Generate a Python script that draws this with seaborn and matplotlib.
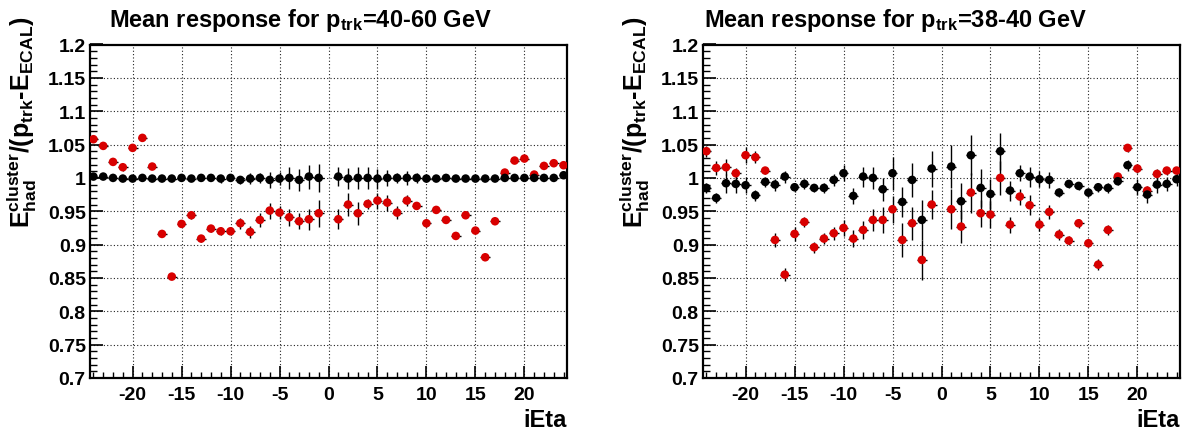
import numpy as np
import pandas as pd
import matplotlib
matplotlib.use("Agg")
import matplotlib.pyplot as plt
import seaborn as sns
from matplotlib.ticker import MultipleLocator, FuncFormatter

# === DATA ===
IETA = list(range(-24, 0)) + list(range(1, 25))

# p_trk = 40-60 GeV
red_4060 = [1.058, 1.048, 1.024, 1.016, 1.045, 1.060, 1.017, 0.916, 0.852, 0.931, 0.944, 0.909,
            0.924, 0.920, 0.920, 0.932, 0.919, 0.937, 0.951, 0.948, 0.941, 0.935, 0.938, 0.947,
            0.938, 0.960, 0.947, 0.961, 0.966, 0.963, 0.948, 0.966, 0.958, 0.932, 0.952, 0.937,
            0.913, 0.944, 0.921, 0.881, 0.935, 1.008, 1.026, 1.029, 1.005, 1.018, 1.022, 1.019]
red_err_4060 = [0.004, 0.004, 0.005, 0.005, 0.004, 0.003, 0.004, 0.004, 0.003, 0.005, 0.005, 0.005,
                0.005, 0.006, 0.006, 0.008, 0.009, 0.010, 0.012, 0.010, 0.013, 0.012, 0.016, 0.020,
                0.015, 0.017, 0.017, 0.008, 0.012, 0.012, 0.010, 0.008, 0.005, 0.006, 0.005, 0.005,
                0.004, 0.004, 0.004, 0.004, 0.004, 0.004, 0.004, 0.004, 0.004, 0.003, 0.003, 0.003]
black_4060 = [1.002, 1.002, 1.000, 0.999, 0.999, 1.000, 0.999, 0.999, 0.999, 1.000, 0.999, 1.000,
              1.000, 0.999, 1.000, 0.997, 0.999, 1.000, 0.997, 0.999, 1.000, 0.997, 1.002, 1.000,
              1.002, 0.999, 1.000, 1.000, 0.999, 1.000, 1.000, 1.000, 1.000, 0.999, 0.999, 1.000,
              0.999, 0.999, 0.999, 0.999, 0.999, 1.000, 1.000, 1.000, 1.000, 1.000, 1.000, 1.004]
black_err_4060 = [0.003, 0.003, 0.003, 0.003, 0.003, 0.003, 0.003, 0.003, 0.003, 0.003, 0.003, 0.004,
                  0.004, 0.006, 0.005, 0.006, 0.008, 0.008, 0.012, 0.010, 0.016, 0.016, 0.018, 0.021,
                  0.014, 0.016, 0.017, 0.017, 0.015, 0.012, 0.008, 0.010, 0.008, 0.005, 0.004, 0.004,
                  0.003, 0.003, 0.003, 0.003, 0.003, 0.003, 0.003, 0.003, 0.003, 0.003, 0.003, 0.003]

# p_trk = 38-40 GeV
red_3840 = [1.040, 1.015, 1.016, 1.007, 1.034, 1.031, 1.011, 0.907, 0.855, 0.916, 0.934, 0.896,
            0.909, 0.917, 0.925, 0.909, 0.922, 0.937, 0.937, 0.953, 0.907, 0.932, 0.877, 0.960,
            0.953, 0.927, 0.978, 0.947, 0.945, 1.000, 0.930, 0.972, 0.959, 0.930, 0.949, 0.915,
            0.906, 0.932, 0.902, 0.870, 0.922, 1.002, 1.045, 1.014, 0.981, 1.006, 1.011, 1.011]
red_err_3840 = [0.008, 0.010, 0.012, 0.008, 0.012, 0.009, 0.005, 0.010, 0.010, 0.010, 0.007, 0.008,
                0.008, 0.010, 0.012, 0.013, 0.014, 0.016, 0.020, 0.020, 0.025, 0.025, 0.030, 0.022,
                0.030, 0.025, 0.030, 0.020, 0.020, 0.025, 0.012, 0.012, 0.015, 0.010, 0.010, 0.008,
                0.007, 0.007, 0.006, 0.008, 0.007, 0.006, 0.006, 0.007, 0.007, 0.008, 0.006, 0.006]
black_3840 = [0.985, 0.970, 0.992, 0.991, 0.989, 0.974, 0.994, 0.990, 1.002, 0.986, 0.991, 0.985,
              0.985, 0.997, 1.007, 0.973, 1.002, 1.000, 0.983, 1.007, 0.964, 0.997, 0.937, 1.014,
              1.017, 0.965, 1.034, 0.985, 0.976, 1.040, 0.981, 1.007, 1.002, 0.998, 0.997, 0.978,
              0.991, 0.988, 0.978, 0.986, 0.985, 0.995, 1.019, 0.986, 0.975, 0.990, 0.991, 0.998]
black_err_3840 = [0.008, 0.008, 0.014, 0.014, 0.012, 0.008, 0.007, 0.009, 0.009, 0.007, 0.008, 0.006,
                  0.007, 0.009, 0.012, 0.012, 0.015, 0.016, 0.017, 0.025, 0.022, 0.025, 0.030, 0.027,
                  0.032, 0.027, 0.030, 0.029, 0.022, 0.028, 0.015, 0.012, 0.015, 0.012, 0.012, 0.007,
                  0.006, 0.006, 0.006, 0.007, 0.008, 0.006, 0.008, 0.012, 0.012, 0.012, 0.010, 0.010]

TITLES = ["Mean response for p$_{trk}$=40-60 GeV", "Mean response for p$_{trk}$=38-40 GeV"]
YLABEL = "E$_{had}^{cluster}$/(p$_{trk}$-E$_{ECAL}$)"
XLABEL = "iEta"
RED = "#d80000"

# === STYLE ===
sns.set_style("white")
plt.rcParams["font.family"] = ["Liberation Sans", "DejaVu Sans"]
plt.rcParams["font.weight"] = "bold"
plt.rcParams["mathtext.fontset"] = "custom"
for k in ["rm", "it", "bf", "sf"]:
    plt.rcParams["mathtext." + k] = "Liberation Sans:bold"
plt.rcParams["mathtext.default"] = "rm"
plt.rcParams["axes.unicode_minus"] = False
for k in ["text.color", "axes.labelcolor", "xtick.color", "ytick.color", "axes.edgecolor"]:
    plt.rcParams[k] = "black"

fig = plt.figure(figsize=(11.95, 4.39), dpi=100)
W, H = 1195, 439
panels = [
    (90, red_4060, red_err_4060, black_4060, black_err_4060, TITLES[0], 300),
    (703, red_3840, red_err_3840, black_3840, black_err_3840, TITLES[1], 895),
]

for left, red, red_err, black, black_err, title, title_x in panels:
    ax = fig.add_axes([left / W, 60 / H, 477 / W, 333.5 / H])
    df = pd.DataFrame({
        "ieta": IETA * 2,
        "response": red + black,
        "err": red_err + black_err,
        "sample": ["red"] * len(IETA) + ["black"] * len(IETA),
    })
    for name in ["red", "black"]:
        sub = df[df["sample"] == name]
        ax.errorbar(sub["ieta"], sub["response"], yerr=sub["err"], xerr=0.5,
                    fmt="none", ecolor="black", elinewidth=1.0, capsize=0, zorder=2)
    sns.scatterplot(data=df, x="ieta", y="response", hue="sample",
                    palette={"red": RED, "black": "black"}, s=38, linewidth=0,
                    legend=False, ax=ax, zorder=3)

    ax.set_xlim(-24.35, 24.35)
    ax.set_ylim(0.7, 1.2)
    ax.xaxis.set_major_locator(MultipleLocator(5))
    ax.xaxis.set_minor_locator(MultipleLocator(1))
    ax.yaxis.set_major_locator(MultipleLocator(0.05))
    ax.yaxis.set_minor_locator(MultipleLocator(0.01))
    ax.yaxis.set_major_formatter(FuncFormatter(lambda v, p: f"{v:.2f}".rstrip("0").rstrip(".")))
    ax.tick_params(axis="both", which="both", direction="in",
                   bottom=True, left=True, top=False, right=False)
    ax.tick_params(axis="y", which="major", length=9, width=1.2, pad=3, labelsize=14)
    ax.tick_params(axis="y", which="minor", length=5, width=1.0)
    ax.tick_params(axis="x", which="major", length=9, width=1.2, pad=6, labelsize=14)
    ax.tick_params(axis="x", which="minor", length=4.5, width=1.0)
    for lab in ax.get_xticklabels() + ax.get_yticklabels():
        lab.set_fontweight("bold")
    ax.grid(True, which="major", color="#222222", linestyle=(0, (1, 2)), linewidth=0.8)
    for sp in ax.spines.values():
        sp.set_linewidth(1.6)
        sp.set_color("black")

    ax.set_ylabel(YLABEL, fontsize=18, fontweight="bold", loc="top")
    ax.yaxis.set_label_coords(-0.107, 1.086)
    ax.set_xlabel(XLABEL, fontsize=17, fontweight="bold", loc="right")
    ax.xaxis.set_label_coords(1.0, -0.09)
    ax.xaxis.label.set_va("top")

    fig.text(title_x / W, 1 - 7 / H, title, ha="center", va="top",
             fontsize=17, fontweight="bold")

fig.savefig("out.png", dpi=100)
